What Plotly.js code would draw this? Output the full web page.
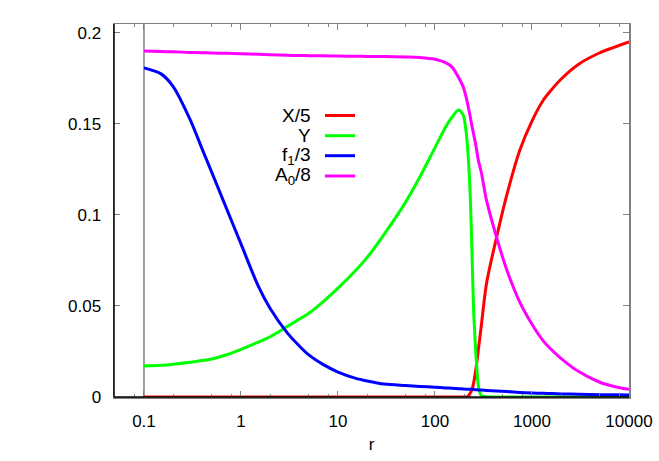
<!DOCTYPE html>
<html>
<head>
<meta charset="utf-8">
<script src="https://cdn.plot.ly/plotly-3.0.1.min.js"></script>
<style>html,body{margin:0;padding:0;background:#fff;}#chart{width:659px;height:461px;}</style>
</head>
<body>
<div id="chart"></div>
<script>
// radial coordinate r
const r = [0.1, 0.15, 0.2, 0.3, 0.4, 0.5, 0.7, 1, 1.5, 2, 3, 4, 5, 7, 10, 15, 20, 30, 50, 70, 100, 130, 150, 175, 195, 210, 220, 230, 240, 250, 260, 270, 280, 300, 340, 430, 550, 750, 1000, 1300, 1600, 2000, 3000, 5000, 7000, 10000];

// X/5
const xOver5 = [0, 0, 0, 0, 0, 0, 0, 0, 0, 0, 0, 0, 0, 0, 0, 0, 0, 0, 0, 0, 0, 0, 0, 0, 0, 0, 0.0005, 0.002, 0.004, 0.0075, 0.013, 0.019, 0.026, 0.039, 0.0625, 0.0874, 0.111, 0.1357, 0.1516, 0.1629, 0.169, 0.1747, 0.1827, 0.1891, 0.1921, 0.1951];

// Y
const yVal = [0.0170, 0.0174, 0.0180, 0.0191, 0.0200, 0.0209, 0.0231, 0.0262, 0.0301, 0.0331, 0.0387, 0.0428, 0.0460, 0.0523, 0.0598, 0.0692, 0.0767, 0.0895, 0.1072, 0.1210, 0.1370, 0.1487, 0.1538, 0.1577, 0.1550, 0.1450, 0.1320, 0.1130, 0.0820, 0.0480, 0.0300, 0.0160, 0.0060, 0.0008, 0.0002, 0, 0, 0, 0, 0, 0, 0, 0, 0, 0, 0];

// f1/3
const f1Over3 = [0.1808, 0.1775, 0.1705, 0.1522, 0.1359, 0.1234, 0.1043, 0.0841, 0.0612, 0.0486, 0.0352, 0.0280, 0.0231, 0.0179, 0.0137, 0.0104, 0.0088, 0.0071, 0.0063, 0.0058, 0.0054, 0.0050, 0.0048, 0.0046, 0.0044, 0.0043, 0.0043, 0.0042, 0.0042, 0.0041, 0.0040, 0.0040, 0.0039, 0.0038, 0.0036, 0.0033, 0.0030, 0.0025, 0.0022, 0.0020, 0.0019, 0.0017, 0.0015, 0.0013, 0.0012, 0.0011];

// A0/8
const a0Over8 = [0.1900, 0.1898, 0.1896, 0.1893, 0.1891, 0.1890, 0.1888, 0.1886, 0.1883, 0.1880, 0.1877, 0.1876, 0.1875, 0.1874, 0.1873, 0.1872, 0.1871, 0.1870, 0.1868, 0.1865, 0.1855, 0.1835, 0.1812, 0.1755, 0.1705, 0.1645, 0.1595, 0.1545, 0.1490, 0.1445, 0.1400, 0.1350, 0.1300, 0.1235, 0.1080, 0.0880, 0.0698, 0.0520, 0.0400, 0.0310, 0.0258, 0.0211, 0.0141, 0.0081, 0.0058, 0.0042];

const seriesNames = ['X/5', 'Y', 'f<sub>1</sub>/3', 'A<sub>0</sub>/8'];
const seriesColors = ['#ff0000', '#00ff00', '#0000ff', '#ff00ff'];
const seriesData = [xOver5, yVal, f1Over3, a0Over8];

const xMajor = [0.1, 1, 10, 100, 1000, 10000];
const xMajorText = ['0.1', '1', '10', '100', '1000', '10000'];
const xMinor = [0.08, 0.2, 0.5, 0.8, 2, 5, 8, 20, 50, 80, 200, 500, 800, 2000, 5000, 8000];
const yTicks = [0, 0.05, 0.1, 0.15, 0.2];
const yTickText = ['0', '0.05', '0.1', '0.15', '0.2'];

const FONT = 'Liberation Sans, Arial, Helvetica, sans-serif';

const traces = seriesData.map((d, i) => ({
  x: r, y: d, type: 'scatter', mode: 'lines', name: seriesNames[i],
  line: {color: seriesColors[i], width: 3, shape: 'spline', smoothing: 0.8}, showlegend: false, hoverinfo: 'skip'
}));

// legend (gnuplot style: text then line sample)
const legX = 0.3864, legL0 = 0.4097, legL1 = 0.468;
const legY = [0.7547, 0.7005, 0.6469, 0.5925];
const annotations = seriesNames.map((n, i) => ({
  xref: 'paper', yref: 'paper', x: legX, y: legY[i], xanchor: 'right', yanchor: 'middle',
  text: n, showarrow: false, font: {family: FONT, size: 19, color: '#000'}
}));
const shapes = seriesNames.map((n, i) => ({
  type: 'line', xref: 'paper', yref: 'paper', x0: legL0, x1: legL1, y0: legY[i], y1: legY[i],
  line: {color: seriesColors[i], width: 3}
}));
// vertical gray line at r = 0.1
shapes.push({type: 'line', xref: 'x', yref: 'paper', x0: 0.1, x1: 0.1, y0: 0, y1: 1,
  line: {color: '#a0a0a0', width: 2}, layer: 'below'});
// black left and bottom border
shapes.push({type: 'line', xref: 'paper', yref: 'paper', x0: 0, x1: 1, y0: 0, y1: 0, line: {color: '#000', width: 1.5}});
shapes.push({type: 'line', xref: 'paper', yref: 'paper', x0: 0, x1: 0, y0: 0, y1: 1, line: {color: '#000', width: 1.5}});

const layout = {
  width: 659, height: 461,
  margin: {l: 114, r: 30, t: 24, b: 64},
  paper_bgcolor: '#fff', plot_bgcolor: '#fff',
  font: {family: FONT, size: 17, color: '#000'},
  showlegend: false,
  xaxis: {
    type: 'log', range: [-1.309, 4.0], showgrid: false, zeroline: false,
    showline: true, linecolor: '#808080', linewidth: 1.5, mirror: 'allticks',
    ticks: 'inside', ticklen: 6, tickcolor: '#808080', tickwidth: 1,
    tickmode: 'array', tickvals: xMajor, ticktext: xMajorText,
    ticklabelstandoff: 8,
    minor: {tickmode: 'array', tickvals: xMinor, ticks: 'inside', ticklen: 3, tickcolor: '#808080', showgrid: false},
    tickfont: {family: FONT, size: 17, color: '#000'},
    title: {text: 'r', font: {family: FONT, size: 17, color: '#000'}, standoff: 8},
    automargin: false
  },
  yaxis: {
    range: [0, 0.2049], showgrid: false, zeroline: false,
    showline: true, linecolor: '#808080', linewidth: 1.5, mirror: 'allticks',
    ticks: 'inside', ticklen: 6, tickcolor: '#808080', tickwidth: 1,
    tickmode: 'array', tickvals: yTicks, ticktext: yTickText,
    ticklabelstandoff: 8,
    tickfont: {family: FONT, size: 17, color: '#000'},
    automargin: false
  },
  annotations: annotations,
  shapes: shapes
};

Plotly.newPlot('chart', traces, layout, {staticPlot: true, displayModeBar: false});
</script>
</body>
</html>
